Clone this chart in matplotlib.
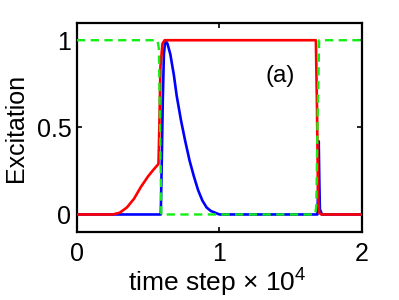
import matplotlib
matplotlib.use("Agg")
import matplotlib.pyplot as plt

# valores (tiempo en unidades de 1e4 pasos)
red_t = [0.0, 0.25, 0.30, 0.35, 0.40, 0.45, 0.50, 0.54, 0.572, 0.578, 0.586,
         0.60, 0.615, 1.677, 1.685, 1.692, 1.70, 1.715, 2.0]
red_y = [0.0, 0.0, 0.01, 0.04, 0.09, 0.16, 0.22, 0.26, 0.29, 0.5, 0.85,
         0.98, 1.0, 1.0, 0.6, 0.1, 0.01, 0.0, 0.0]

blue_t = [0.0, 0.588, 0.595, 0.602, 0.61, 0.62, 0.635, 0.655, 0.68, 0.70, 0.73,
          0.76, 0.79, 0.82, 0.85, 0.88, 0.91, 0.94, 0.97, 1.0, 1.688, 1.693,
          1.697, 1.701, 1.705, 1.72, 2.0]
blue_y = [0.0, 0.0, 0.3, 0.65, 0.92, 1.0, 0.98, 0.92, 0.80, 0.68, 0.54,
          0.42, 0.31, 0.22, 0.14, 0.08, 0.04, 0.02, 0.01, 0.0, 0.0, 0.15,
          0.42, 0.2, 0.03, 0.0, 0.0]

green_t = [0.0, 0.565, 0.575, 0.583, 0.592, 1.672, 1.68, 1.688, 1.70, 2.0]
green_y = [1.0, 1.0, 0.95, 0.5, 0.0, 0.0, 0.05, 0.5, 1.0, 1.0]

x_ticks = [0, 1, 2]
y_ticks = [0, 0.5, 1]
y_ticklabels = ["0", "0.5", "1"]

plt.rcParams["font.family"] = ["Liberation Sans", "DejaVu Sans"]
plt.rcParams["mathtext.fontset"] = "custom"
plt.rcParams["mathtext.rm"] = "Liberation Sans"
plt.rcParams["mathtext.it"] = "Liberation Sans:italic"

fig = plt.figure(figsize=(3.99, 3.0), dpi=100, facecolor="white")
ax = fig.add_axes([0.193, 0.227, 0.714, 0.697])

dash = (0, (3.5, 2.3))
ax.plot(blue_t, blue_y, color="#0000ff", lw=1.9, zorder=2)
ax.plot(red_t, red_y, color="#ff0000", lw=1.9, zorder=3)
ax.plot(green_t, green_y, color="#11ee11", lw=1.7, ls=dash, zorder=5)

ax.set_xlim(0, 2)
ax.set_ylim(-0.1, 1.1)
ax.set_xticks(x_ticks)
ax.set_yticks(y_ticks)
ax.set_yticklabels(y_ticklabels)
ax.tick_params(direction="in", length=3.5, width=1.2, top=True, right=True,
               labelsize=18)
ax.tick_params(axis="x", pad=7)
ax.tick_params(axis="y", pad=4)
for s in ax.spines.values():
    s.set_linewidth(1.6)

fig.text(217 / 399, 8 / 300, "time step $\\times$ 10$^{4}$", fontsize=19,
         ha="center", va="baseline")
fig.text(16 / 399, 0.5 + (150 - 127.5) / 300, "Excitation", fontsize=18,
         rotation=90, ha="center", va="center")
ax.text(1.425, 0.795, "(a)", fontsize=17.5, ha="center", va="center")

fig.savefig("out.png", dpi=100)
